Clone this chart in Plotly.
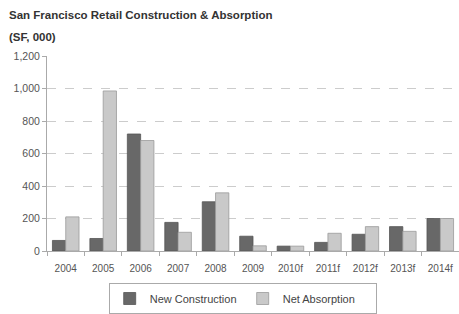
import plotly.graph_objects as go

years = ["2004", "2005", "2006", "2007", "2008", "2009", "2010f", "2011f", "2012f", "2013f", "2014f"]
new_construction = [65, 77, 720, 176, 303, 91, 30, 53, 103, 150, 200]
net_absorption = [210, 985, 680, 115, 358, 32, 30, 109, 150, 121, 200]
y_ticks = [0, 200, 400, 600, 800, 1000, 1200]

font_family = "Liberation Sans, Arial, sans-serif"

fig = go.Figure()
fig.add_trace(go.Bar(x=years, y=new_construction, name="New Construction",
                     marker=dict(color="#686868", line=dict(color="#555555", width=0.8))))
fig.add_trace(go.Bar(x=years, y=net_absorption, name="Net Absorption",
                     marker=dict(color="#c9c9c9", line=dict(color="#9a9a9a", width=0.8))))

fig.update_layout(
    width=459, height=314,
    margin=dict(l=47, r=0, t=56, b=60),
    paper_bgcolor="white", plot_bgcolor="white",
    font=dict(family=font_family, size=10, color="#555555"),
    barmode="group", bargap=0.29, bargroupgap=0.0,
    showlegend=True,
    legend=dict(orientation="h", x=0.475, xanchor="center", y=-0.165, yanchor="top",
                bordercolor="#aaaaaa", borderwidth=1, font=dict(size=11, color="#444444"),
                itemwidth=30, traceorder="normal", entrywidth=88, entrywidthmode="pixels"),
    xaxis=dict(showline=True, linecolor="#aaaaaa", linewidth=1, ticks="outside",
               tickson="boundaries", ticklen=4, tickcolor="#aaaaaa", ticklabelstandoff=8,
               tickfont=dict(size=10, color="#555555"), showgrid=False),
    yaxis=dict(range=[0, 1200], tickvals=y_ticks, tickformat=",", showline=True,
               linecolor="#aaaaaa", linewidth=1, ticks="outside", ticklen=4,
               tickcolor="#aaaaaa", gridcolor="#cccccc", griddash="dash", gridwidth=1,
               zeroline=False, tickfont=dict(size=10.5, color="#555555")),
    annotations=[
        dict(text="<b>San Francisco Retail Construction &amp; Absorption</b>", xref="paper", yref="paper",
             x=-40/412, y=1 + 42/198, xanchor="left", yanchor="middle", showarrow=False,
             font=dict(size=11.5, color="#333333", family=font_family)),
        dict(text="<b>(SF, 000)</b>", xref="paper", yref="paper",
             x=-40/412, y=1 + 19/198, xanchor="left", yanchor="middle", showarrow=False,
             font=dict(size=11.5, color="#333333", family=font_family)),
    ],
)

fig.write_html("out.html", config={"displayModeBar": False},
               post_script="document.body.style.margin='0';document.body.style.overflow='hidden';")
